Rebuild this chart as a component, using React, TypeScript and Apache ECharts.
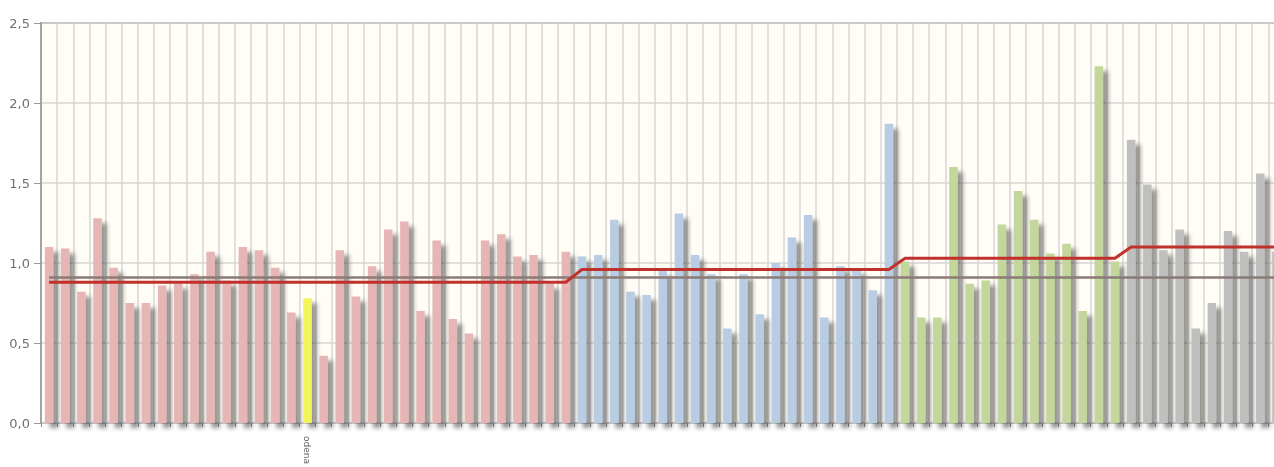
import React, { useEffect, useRef } from "react";
import * as echarts from "echarts";

// Bar values per group
const pinkValues = [
  1.10, 1.09, 0.82, 1.28, 0.97, 0.75, 0.75, 0.86, 0.87, 0.93, 1.07, 0.89,
  1.10, 1.08, 0.97, 0.69, 0.78, 0.42, 1.08, 0.79, 0.98, 1.21, 1.26, 0.70,
  1.14, 0.65, 0.56, 1.14, 1.18, 1.04, 1.05, 0.87, 1.07,
];
const blueValues = [
  1.04, 1.05, 1.27, 0.82, 0.80, 0.95, 1.31, 1.05, 0.93, 0.59, 0.93, 0.68,
  1.00, 1.16, 1.30, 0.66, 0.98, 0.96, 0.83, 1.87,
];
const greenValues = [
  1.01, 0.66, 0.66, 1.60, 0.87, 0.89, 1.24, 1.45, 1.27, 1.06, 1.12, 0.70,
  2.23, 1.01,
];
const grayValues = [1.77, 1.49, 1.08, 1.21, 0.59, 0.75, 1.20, 1.07, 1.56, 1.07];

// Group means (red stepped line) and overall reference (gray line)
const groupMeans = [0.88, 0.96, 1.03, 1.10];
const overallMean = 0.91;

// Highlighted category
const highlightIndex = 16;
const highlightName = "odena";

// Y tick labels
const yTicks = [0, 0.5, 1.0, 1.5, 2.0, 2.5];

const groups = [pinkValues, blueValues, greenValues, grayValues];
const groupColors = ["#e6b5b5", "#b8cce4", "#c3d69b", "#bfbfbf"];
const highlightColor = "#f4f55a";

export default function App() {
  const ref = useRef<HTMLDivElement>(null);

  useEffect(() => {
    if (!ref.current) return;
    const chart = echarts.init(ref.current, null, { renderer: "svg" });

    const barData: any[] = [];
    const meanData: number[] = [];
    groups.forEach((vals, g) => {
      vals.forEach((v) => {
        const idx = barData.length;
        barData.push({
          value: v,
          itemStyle: { color: idx === highlightIndex ? highlightColor : groupColors[g] },
        });
        meanData.push(groupMeans[g]);
      });
    });
    const n = barData.length;
    const categories = Array.from({ length: n }, (_, i) => (i === highlightIndex ? highlightName : ""));
    const overallData = Array.from({ length: n }, () => overallMean);

    chart.setOption({
      animation: false,
      grid: {
        left: 41,
        top: 23,
        width: n * 16.15,
        height: 400,
        outerBoundsMode: "none",
        containLabel: false,
        show: true,
        backgroundColor: "#fffdf5",
        borderColor: "#9e9e9e",
        borderWidth: 2,
      },
      xAxis: {
        type: "category",
        data: categories,
        boundaryGap: true,
        axisLine: {
          show: true,
          lineStyle: {
            color: "#9c9c9c",
            width: 2,
            shadowColor: "rgba(0,0,0,0.18)",
            shadowBlur: 3,
            shadowOffsetY: 3,
          },
        },
        axisTick: { show: true, interval: 0, length: 4, lineStyle: { color: "#8a8a8a" } },
        splitLine: { show: true, interval: 0, lineStyle: { color: "#d6d6d6", width: 1.5 } },
        axisLabel: {
          interval: 0,
          rotate: -90,
          fontSize: 9,
          color: "#666",
          margin: 13,
          fontFamily: "DejaVu Sans",
        },
      },
      yAxis: {
        type: "value",
        min: 0,
        max: 2.5,
        interval: 0.5,
        axisLine: { show: true, lineStyle: { color: "#a3a3a3", width: 2 } },
        axisTick: { show: true, length: 7, lineStyle: { color: "#9a9a9a" } },
        splitLine: { show: true, lineStyle: { color: "#d6d6d6", width: 1.5 } },
        axisLabel: {
          color: "#707070",
          fontSize: 13,
          margin: 11,
          fontFamily: "DejaVu Sans",
          formatter: (v: number) => {
            const t = yTicks.find((y) => Math.abs(y - v) < 1e-9);
            return (t ?? v).toFixed(1).replace(".", ",");
          },
        },
      },
      series: [
        {
          type: "bar",
          data: barData,
          barWidth: 8.5,
          itemStyle: {
            shadowColor: "rgba(40,40,40,0.5)",
            shadowBlur: 4,
            shadowOffsetX: 5,
            shadowOffsetY: 5,
          },
        },
        {
          type: "line",
          data: overallData,
          symbol: "none",
          lineStyle: { color: "#8a7b76", width: 2.5 },
        },
        {
          type: "line",
          data: meanData,
          symbol: "none",
          lineStyle: { color: "#c1312b", width: 3 },
        },
      ],
    });

    return () => {
      chart.dispose();
    };
  }, []);

  return (
    <div
      ref={ref}
      style={{ position: "fixed", left: 0, top: 0, width: 1274, height: 467 }}
    />
  );
}
